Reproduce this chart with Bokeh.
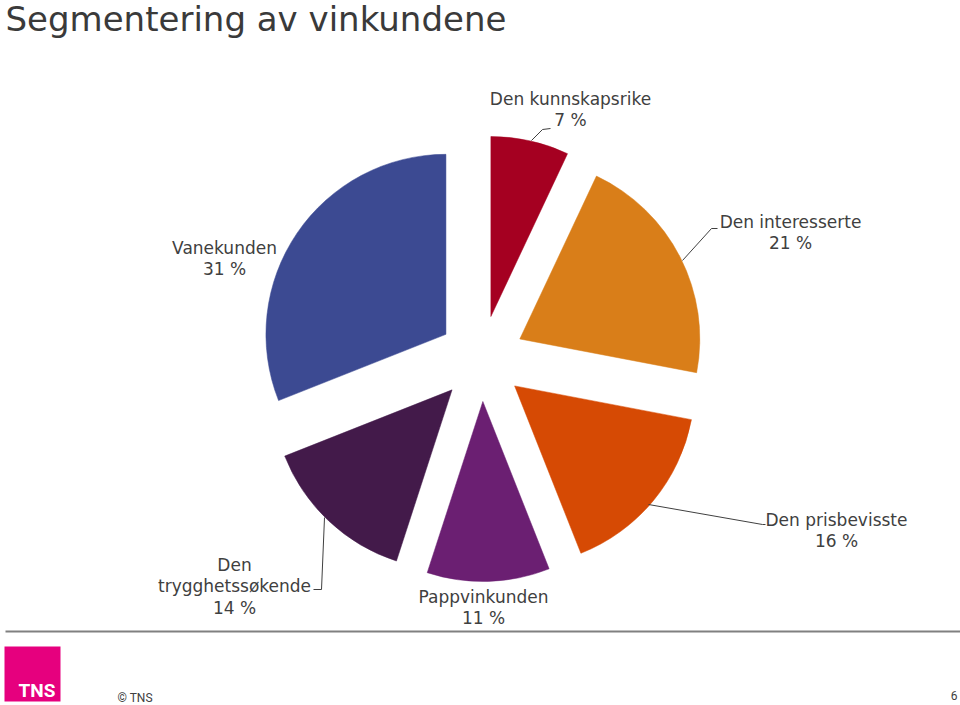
import math
from bokeh.plotting import figure
from bokeh.models import Range1d, ColumnDataSource
from bokeh.core.properties import value
from bokeh.embed import file_html
from bokeh.resources import INLINE

# ---- data ----
segments = ["Den kunnskapsrike", "Den interesserte", "Den prisbevisste",
            "Pappvinkunden", "Den trygghetssøkende", "Vanekunden"]
shares = [7, 21, 16, 11, 14, 31]
label_text = ["Den kunnskapsrike\n7 %", "Den interesserte\n21 %", "Den prisbevisste\n16 %",
              "Pappvinkunden\n11 %", "Den\ntrygghetssøkende\n14 %", "Vanekunden\n31 %"]
colors = ["#A50021", "#D97E19", "#D64A04", "#6B1F72", "#431A4A", "#3C4A92"]

title = "Segmentering av vinkundene"

# ---- layout (screen pixel coordinates, y down) ----
W, H = 960, 705
def Y(y):
    return H - y

CX, CY = 481, 358
R = 180
EXPLODE = 43

label_pos = [(570, 88), (790, 211), (836, 509), (483, 586), (234, 554), (224, 237)]
leaders = [
    [(531, 140), (542, 129), (550, 128)],
    [(682, 260), (711, 228), (717, 228)],
    [(648, 504), (762, 524), (765, 524)],
    None,
    [(324, 517), (321, 589), (313, 589)],
    None,
]

p = figure(width=W, height=H, x_range=Range1d(0, W), y_range=Range1d(0, H),
           output_backend="svg", toolbar_location=None,
           x_axis_location=None, y_axis_location=None, min_border=0)
p.grid.visible = False
p.outline_line_color = None
p.background_fill_color = "white"
p.border_fill_color = "white"

# wedges: clockwise from 12 o'clock
total = float(sum(shares))
xs, ys, starts, ends = [], [], [], []
cum = 0.0
for s in shares:
    t1 = cum / total * 360.0
    t2 = (cum + s) / total * 360.0
    cum += s
    mid = math.radians(90 - (t1 + t2) / 2)
    xs.append(CX + EXPLODE * math.cos(mid))
    ys.append(Y(CY) + EXPLODE * math.sin(mid))
    starts.append(math.radians(90 - t2))
    ends.append(math.radians(90 - t1))

src = ColumnDataSource(dict(x=xs, y=ys, start=starts, end=ends, color=colors, seg=segments))
p.wedge(x="x", y="y", radius=R, start_angle="start", end_angle="end",
        fill_color="color", line_color="color", line_width=0.5, source=src)

# leader lines
for ld in leaders:
    if ld:
        p.line([q[0] for q in ld], [Y(q[1]) for q in ld], line_color="#404040", line_width=1)

# labels
p.text(x=[q[0] for q in label_pos], y=[Y(q[1]) for q in label_pos], text=label_text,
       text_align="center", text_baseline="top", text_font=value("DejaVu Sans"),
       text_font_size="17px", text_color="#404040", text_line_height=1.08)

# title
p.text(x=[5], y=[Y(18.5)], text=[title], text_align="left", text_baseline="middle",
       text_font=value("DejaVu Sans"), text_font_size="34px", text_color="#3a3a3a")

# footer
p.line([5, 960], [Y(631), Y(631)], line_color="#808080", line_width=2)
p.quad(left=[4], right=[60], top=[Y(646)], bottom=[Y(701)], fill_color="#E6007E", line_color=None)
p.text(x=[18], y=[Y(690)], text=["TNS"], text_align="left", text_baseline="middle",
       text_font=value("Roboto"), text_font_style="bold", text_font_size="19px", text_color="white")
p.text(x=[117], y=[Y(697)], text=["© TNS"], text_align="left", text_baseline="middle",
       text_font=value("Roboto"), text_font_size="12px", text_color="#404040")
p.text(x=[957], y=[Y(695)], text=["6"], text_align="right", text_baseline="middle",
       text_font=value("Roboto"), text_font_size="12px", text_color="#404040")

open("out.html", "w").write(file_html(p, INLINE))
